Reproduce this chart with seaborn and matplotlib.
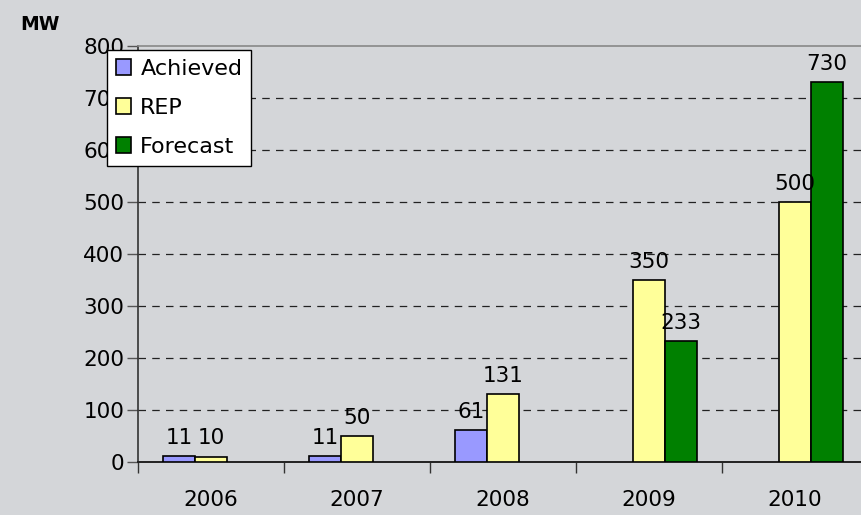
import numpy as np
import pandas as pd
import matplotlib
matplotlib.use("Agg")
import matplotlib.pyplot as plt
import seaborn as sns

# Installed capacity per year (MW)
years = ["2006", "2007", "2008", "2009", "2010"]
achieved = [11, 11, 61, np.nan, np.nan]
rep = [10, 50, 131, 350, 500]
forecast = [np.nan, np.nan, np.nan, 233, 730]
series_names = ["Achieved", "REP", "Forecast"]
series_colors = ["#9999ff", "#ffff99", "#008000"]
y_ticks = [0, 100, 200, 300, 400, 500, 600, 700, 800]

bg = "#d4d6d9"

sns.set_theme(style="white")
plt.rcParams["font.family"] = ["DejaVu Sans"]
plt.rcParams["text.color"] = "black"
plt.rcParams["xtick.color"] = "black"
plt.rcParams["ytick.color"] = "black"

df = pd.DataFrame({
    "year": years * 3,
    "series": [s for s in series_names for _ in years],
    "value": achieved + rep + forecast,
})

fig = plt.figure(figsize=(8.61, 5.15), dpi=100, facecolor=bg)
ax = fig.add_axes([138 / 861, 53 / 515, 730 / 861, 416 / 515])
ax.set_facecolor(bg)

sns.barplot(
    data=df, x="year", y="value", hue="series",
    order=years, hue_order=series_names,
    palette=dict(zip(series_names, series_colors)), saturation=1,
    width=0.66, edgecolor="black", linewidth=1.2,
    errorbar=None, ax=ax, zorder=3,
)

for cont in ax.containers:
    ax.bar_label(cont, fmt="%g", padding=6, fontsize=15.5, color="black")

ax.set_ylim(0, 800)
ax.set_xlim(-0.5, len(years) - 0.5)
ax.set_yticks(y_ticks)
ax.set_yticklabels([str(t) for t in y_ticks], fontsize=15.5, color="black")
ax.tick_params(axis="y", which="major", direction="out", length=8, width=1,
               color="#555555", pad=2, left=True)

# category labels centred, separators at boundaries
ax.set_xticks(range(len(years)))
ax.set_xticklabels(years, fontsize=15.5, color="black")
ax.tick_params(axis="x", which="major", length=0, pad=20)
ax.set_xticks(np.arange(-0.5, len(years), 1.0), minor=True)
ax.tick_params(axis="x", which="minor", direction="out", length=8, width=1,
               color="#333333", bottom=True)

for v in y_ticks[1:-1]:
    ax.axhline(v, color="#222222", linestyle=(0, (6, 5)), linewidth=0.9, zorder=1)

ax.set_xlabel("")
ax.set_ylabel("")
ax.spines["right"].set_visible(False)
ax.spines["top"].set_color("#888888")
ax.spines["top"].set_linewidth(1.2)
ax.spines["left"].set_color("#333333")
ax.spines["left"].set_linewidth(1.2)
ax.spines["bottom"].set_color("#222222")
ax.spines["bottom"].set_linewidth(1.4)

fig.text(20 / 861, 1 - 25 / 515, "MW", fontsize=13.5, fontweight="bold",
         va="center", ha="left", color="black")

leg = ax.legend(
    loc="upper left", bbox_to_anchor=(107 / 861, 1 - 50 / 515),
    bbox_transform=fig.transFigure, frameon=True, fancybox=False,
    fontsize=16, handlelength=0.7, handleheight=0.7, handletextpad=0.4,
    borderpad=0.4, labelspacing=0.85, borderaxespad=0, title=None,
)
leg.get_frame().set_edgecolor("black")
leg.get_frame().set_facecolor("white")
leg.get_frame().set_linewidth(1)
leg.get_frame().set_alpha(1)
leg.set_zorder(5)
for t in leg.get_texts():
    t.set_color("black")

fig.savefig("out.png", dpi=100, facecolor=bg)
